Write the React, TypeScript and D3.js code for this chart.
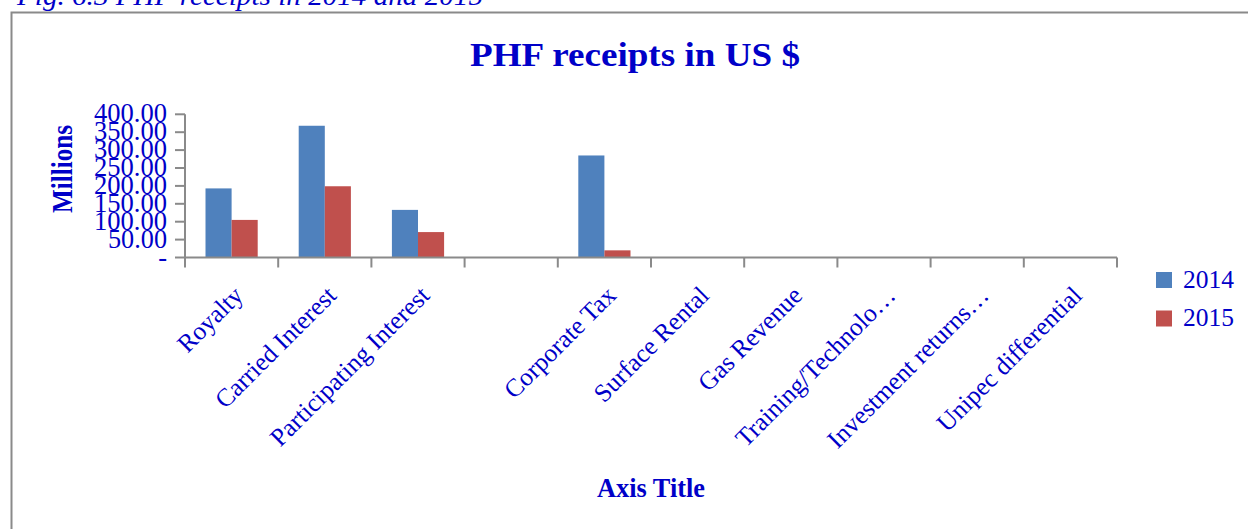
import * as d3 from "d3";
import { useEffect, useRef } from "react";

const categories = [
  "Royalty",
  "Carried Interest",
  "Participating Interest",
  "",
  "Corporate Tax",
  "Surface Rental",
  "Gas Revenue",
  "Training/Technolo…",
  "Investment returns…",
  "Unipec differential",
];
const seriesNames = ["2014", "2015"];
const values2014 = [193, 368, 133, 0, 285, 0, 0, 0, 0, 0];
const values2015 = [105, 199, 71, 0, 20, 0, 0, 0, 0, 0];
const yTicks = [0, 50, 100, 150, 200, 250, 300, 350, 400];
const colors = ["#4F81BD", "#C0504D"];

const FONT = "'Liberation Serif', 'Times New Roman', serif";
const TEXT = "#0000C8";
const AXIS = "#8A8A8A";

export default function App() {
  const ref = useRef<SVGSVGElement>(null);

  useEffect(() => {
    const svg = d3.select(ref.current);
    svg.selectAll("*").remove();

    const width = 1248;
    const height = 529;
    const plot = { left: 185, right: 1117, top: 114.3, bottom: 257.5 };

    svg.attr("width", width).attr("height", height);

    // outer frame + caption
    svg.append("rect")
      .attr("x", 11.5).attr("y", 12.5)
      .attr("width", 1300).attr("height", 600)
      .attr("fill", "none").attr("stroke", AXIS).attr("stroke-width", 2);

    svg.append("text")
      .attr("x", 17).attr("y", 5)
      .attr("font-family", FONT).attr("font-style", "italic")
      .attr("font-size", 28).attr("fill", TEXT)
      .attr("textLength", 466).attr("lengthAdjust", "spacingAndGlyphs")
      .text("Fig. 6.3 PHF receipts in 2014 and 2015");

    const x0 = d3.scaleBand()
      .domain(categories)
      .range([plot.left, plot.right])
      .paddingInner(0.44)
      .paddingOuter(0.22);

    const x1 = d3.scaleBand()
      .domain(seriesNames)
      .range([0, x0.bandwidth()]);

    const y = d3.scaleLinear()
      .domain([0, 400])
      .range([plot.bottom, plot.top]);

    const color = d3.scaleOrdinal<string, string>().domain(seriesNames).range(colors);

    const rows = categories.map((c, i) => ({ cat: c, vals: [values2014[i], values2015[i]] }));

    // bars
    svg.append("g")
      .selectAll("g")
      .data(rows)
      .join("g")
      .attr("transform", d => `translate(${x0(d.cat)},0)`)
      .selectAll("rect")
      .data(d => d.vals.map((v, i) => ({ key: seriesNames[i], v })))
      .join("rect")
      .attr("x", d => x1(d.key)!)
      .attr("y", d => y(d.v))
      .attr("width", x1.bandwidth())
      .attr("height", d => y(0) - y(d.v))
      .attr("fill", d => color(d.key));

    // y axis
    const yAxis = svg.append("g");
    yAxis.append("line")
      .attr("x1", plot.left).attr("x2", plot.left)
      .attr("y1", y(400)).attr("y2", y(0))
      .attr("stroke", AXIS).attr("stroke-width", 2);
    yAxis.selectAll("line.tick")
      .data(yTicks)
      .join("line")
      .attr("class", "tick")
      .attr("x1", plot.left - 10).attr("x2", plot.left)
      .attr("y1", d => y(d)).attr("y2", d => y(d))
      .attr("stroke", AXIS).attr("stroke-width", 2);
    yAxis.selectAll("text")
      .data(yTicks)
      .join("text")
      .attr("x", 167)
      .attr("y", d => y(d) + 8)
      .attr("text-anchor", "end")
      .attr("font-family", FONT).attr("font-size", 26.5).attr("fill", TEXT)
      .attr("textLength", d => (d === 0 ? null : d >= 100 ? 73 : 59))
      .attr("lengthAdjust", "spacingAndGlyphs")
      .text(d => (d === 0 ? "-" : d3.format(".2f")(d)));

    // x axis
    const xAxis = svg.append("g");
    xAxis.append("line")
      .attr("x1", plot.left).attr("x2", plot.right)
      .attr("y1", y(0)).attr("y2", y(0))
      .attr("stroke", AXIS).attr("stroke-width", 2);
    const edges = categories.map(c => x0(c)! - x0.step() * 0.22).concat([plot.right]);
    xAxis.selectAll("line.tick")
      .data(edges)
      .join("line")
      .attr("class", "tick")
      .attr("x1", d => d).attr("x2", d => d)
      .attr("y1", y(0)).attr("y2", y(0) + 10)
      .attr("stroke", AXIS).attr("stroke-width", 2);
    xAxis.selectAll("text")
      .data(categories)
      .join("text")
      .attr("transform", d => `translate(${x0(d)! + x0.bandwidth() / 2 + 13},297) rotate(-45)`)
      .attr("text-anchor", "end")
      .attr("font-family", FONT).attr("font-size", 25.5).attr("fill", TEXT)
      .text(d => d);

    // titles
    svg.append("text")
      .attr("x", 635).attr("y", 66)
      .attr("text-anchor", "middle")
      .attr("font-family", FONT).attr("font-weight", "bold")
      .attr("font-size", 34).attr("fill", TEXT)
      .attr("textLength", 330).attr("lengthAdjust", "spacingAndGlyphs")
      .text("PHF receipts in US $");

    svg.append("text")
      .attr("transform", "translate(72,169) rotate(-90)")
      .attr("text-anchor", "middle")
      .attr("font-family", FONT).attr("font-weight", "bold")
      .attr("font-size", 30).attr("fill", TEXT)
      .attr("textLength", 88).attr("lengthAdjust", "spacingAndGlyphs")
      .text("Millions");

    svg.append("text")
      .attr("x", 651).attr("y", 497)
      .attr("text-anchor", "middle")
      .attr("font-family", FONT).attr("font-weight", "bold")
      .attr("font-size", 27).attr("fill", TEXT)
      .attr("textLength", 108).attr("lengthAdjust", "spacingAndGlyphs")
      .text("Axis Title");

    // legend
    const legend = svg.append("g")
      .selectAll("g")
      .data(seriesNames)
      .join("g")
      .attr("transform", (d, i) => `translate(1156,${272 + i * 38.5})`);
    legend.append("rect")
      .attr("width", 16).attr("height", 16)
      .attr("fill", d => color(d));
    legend.append("text")
      .attr("x", 27).attr("y", 15.5)
      .attr("font-family", FONT).attr("font-size", 25.5).attr("fill", TEXT)
      .text(d => d);
  }, []);

  return (
    <div style={{ position: "absolute", left: 0, top: 0 }}>
      <svg ref={ref} style={{ display: "block" }}></svg>
    </div>
  );
}
